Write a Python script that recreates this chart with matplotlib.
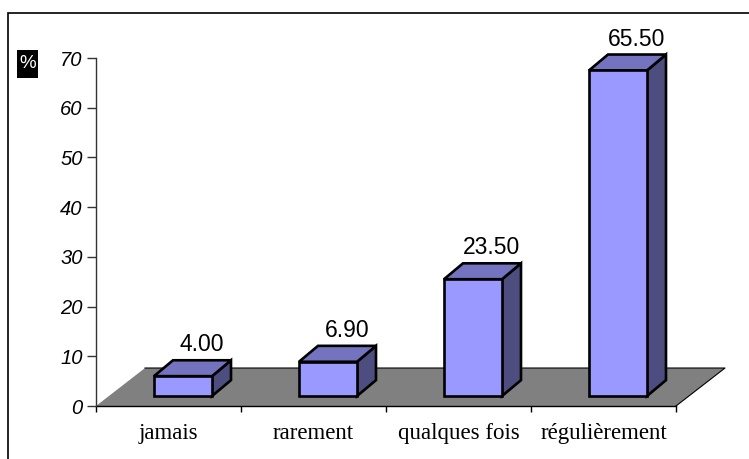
import matplotlib.pyplot as plt
from matplotlib.patches import Polygon, Rectangle

# -------------------------
# data
# -------------------------
categories = ["jamais", "rarement", "qualques fois", "régulièrement"]
values = [4.00, 6.90, 23.50, 65.50]
y_ticks = [0, 10, 20, 30, 40, 50, 60, 70]

# pseudo-3D geometry, in data units (x: category slots, y: percent)
floor_dx, floor_dy = 0.338, 7.64     # depth of the grey floor
front_dx, front_dy = 0.089, 2.0      # where bar fronts sit on the floor
bar_dx, bar_dy = 0.131, 3.2          # bar depth
bar_left, bar_w = 0.311, 0.40        # bar front face inside each slot

c_front = "#9999FF"
c_top = "#7373BF"
c_side = "#4D4D80"
c_floor = "#808080"

fig = plt.figure(figsize=(7.49, 4.59), dpi=100)
ax = fig.add_axes([96 / 749, 1 - 406 / 459, 580 / 749, 348 / 459])
ax.set_xlim(0, len(categories))
ax.set_ylim(0, 70)

# outer frame (runs off the right and bottom edges)
fig.patches.append(Rectangle((8 / 749, -0.2), 1.2, 1.2 - 13 / 459,
                             transform=fig.transFigure, fill=False,
                             edgecolor="black", lw=1.2))

# floor
n = len(categories)
floor = Polygon([(0, 0), (n, 0), (n + floor_dx, floor_dy), (floor_dx, floor_dy)],
                closed=True, facecolor=c_floor, edgecolor="none", clip_on=False, zorder=1)
ax.add_patch(floor)
ax.plot([n, n + floor_dx, floor_dx], [0, floor_dy, floor_dy], color="black", lw=0.8,
        clip_on=False, zorder=1.5)
ax.plot([0, n], [0, 0], color="black", lw=1.0, clip_on=False, zorder=1.5)

# bars
for i, v in enumerate(values):
    x0 = i + bar_left + front_dx
    x1 = x0 + bar_w
    y0 = front_dy
    y1 = front_dy + v
    front = [(x0, y0), (x1, y0), (x1, y1), (x0, y1)]
    top = [(x0, y1), (x1, y1), (x1 + bar_dx, y1 + bar_dy), (x0 + bar_dx, y1 + bar_dy)]
    side = [(x1, y0), (x1 + bar_dx, y0 + bar_dy), (x1 + bar_dx, y1 + bar_dy), (x1, y1)]
    for pts, col in ((side, c_side), (top, c_top), (front, c_front)):
        ax.add_patch(Polygon(pts, closed=True, facecolor=col, edgecolor="black",
                             lw=1.9, joinstyle="miter", clip_on=False, zorder=3))
    ax.text((x0 + x1) / 2 + bar_dx, y1 + bar_dy + 1.8, f"{v:.2f}",
            ha="center", va="baseline", fontsize=16.5, family="Liberation Sans",
            zorder=4)

# axes styling
for s in ("top", "right", "bottom"):
    ax.spines[s].set_visible(False)
ax.spines["left"].set_color("#333333")
ax.spines["left"].set_linewidth(1.0)
ax.patch.set_visible(False)

ax.set_yticks(y_ticks)
ax.set_yticklabels([str(t) for t in y_ticks], fontsize=14.5, style="italic",
                   family="Liberation Sans")
ax.tick_params(axis="y", direction="out", length=6.5, width=1.0, color="#333333", pad=3)

ax.set_xticks(range(n + 1))
ax.set_xticklabels([])
ax.tick_params(axis="x", which="major", direction="out", length=4.5, width=1.0, color="black")
ax.set_xticks([i + 0.5 for i in range(n)], minor=True)
ax.set_xticklabels(categories, minor=True, fontsize=16.5, family="Liberation Serif")
ax.tick_params(axis="x", which="minor", length=0, pad=12.5)

# "%" unit label in a black box
fig.patches.append(Rectangle((17 / 749, 1 - 78 / 459), 21 / 749, 28 / 459,
                             transform=fig.transFigure, facecolor="black",
                             edgecolor="none"))
fig.text(27.5 / 749, 1 - 64 / 459, "%", color="white", fontsize=13.5,
         family="Liberation Sans", ha="center", va="center")

fig.savefig("out.png", dpi=100)
